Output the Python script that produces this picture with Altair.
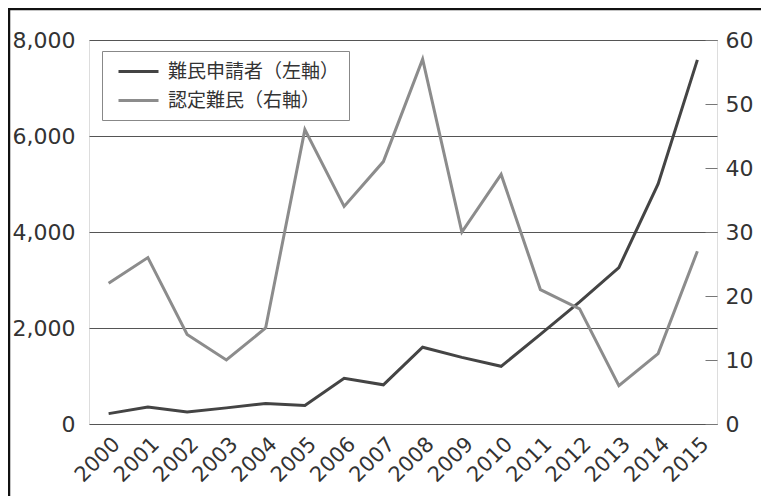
import altair as alt
import pandas as pd

years = [str(y) for y in range(2000, 2016)]
applicants = [216, 353, 250, 336, 426, 384, 954, 816, 1599, 1388, 1202, 1867, 2545, 3260, 5000, 7586]
recognized = [22, 26, 14, 10, 15, 46, 34, 41, 57, 30, 39, 21, 18, 6, 11, 27]
series_names = ["難民申請者（左軸）", "認定難民（右軸）"]
series_colors = ["#444444", "#8c8c8c"]

df_app = pd.DataFrame({"year": years, "value": applicants, "series": series_names[0]})
df_rec = pd.DataFrame({"year": years, "value": recognized, "series": series_names[1]})

W, H = 628, 384
NUM_FONT = "DejaVu Sans"

color = alt.Color(
    "series:N",
    scale=alt.Scale(domain=series_names, range=series_colors),
    legend=alt.Legend(
        title=None,
        orient="none",
        legendX=13,
        legendY=11,
        strokeColor="#888888",
        padding=9,
        symbolType="M-2,0L2,0",
        symbolSize=400,
        symbolStrokeWidth=3,
        symbolOffset=16,
        labelFont="Noto Sans CJK JP",
        labelFontSize=19,
        labelColor="#333333",
        labelOffset=18,
        labelLimit=400,
        rowPadding=7,
    ),
)

x = alt.X(
    "year:O",
    sort=years,
    scale=alt.Scale(type="point", padding=0.5),
    axis=alt.Axis(
        title=None, labelAngle=-45, labelFont=NUM_FONT, labelFontSize=21,
        labelColor="#333333", ticks=False, domain=False, labelPadding=9, grid=False,
    ),
)

left = alt.Chart(df_app).mark_line(strokeWidth=3).encode(
    x=x,
    y=alt.Y(
        "value:Q",
        scale=alt.Scale(domain=[0, 8000], nice=False),
        axis=alt.Axis(
            title=None, values=[0, 2000, 4000, 6000, 8000], format=",d",
            labelFont=NUM_FONT, labelFontSize=22, labelColor="#333333",
            ticks=False, domain=False, labelPadding=14,
            grid=True, gridColor="#555555", gridWidth=1,
        ),
    ),
    color=color,
)

right = alt.Chart(df_rec).mark_line(strokeWidth=3).encode(
    x=x,
    y=alt.Y(
        "value:Q",
        scale=alt.Scale(domain=[0, 60], nice=False),
        axis=alt.Axis(
            title=None, orient="right", values=[0, 10, 20, 30, 40, 50, 60],
            labelFont=NUM_FONT, labelFontSize=22, labelColor="#333333",
            ticks=True, tickSize=12, tickColor="#777777", offset=-12,
            domain=False, labelPadding=8, grid=False,
        ),
    ),
    color=color,
)

dummy = alt.Data(values=[{"a": 1}])
frame_top = alt.Chart(dummy).mark_rule(color="#111111", strokeWidth=2.5).encode(
    x=alt.value(-81), x2=alt.value(672), y=alt.value(-31)
)
frame_left = alt.Chart(dummy).mark_rule(color="#111111", strokeWidth=2.5).encode(
    x=alt.value(-80), y=alt.value(-32), y2=alt.value(456)
)

chart = (
    alt.layer(left, right, frame_top, frame_left)
    .resolve_scale(y="independent")
    .properties(
        width=W,
        height=H,
        autosize=alt.AutoSizeParams(type="none"),
        padding={"left": 81, "top": 32, "right": 44, "bottom": 72},
    )
    .configure_view(stroke="#999999", strokeWidth=1)
    .configure(background="white")
)

chart.save("out.html", embed_options={"renderer": "svg", "actions": False})
